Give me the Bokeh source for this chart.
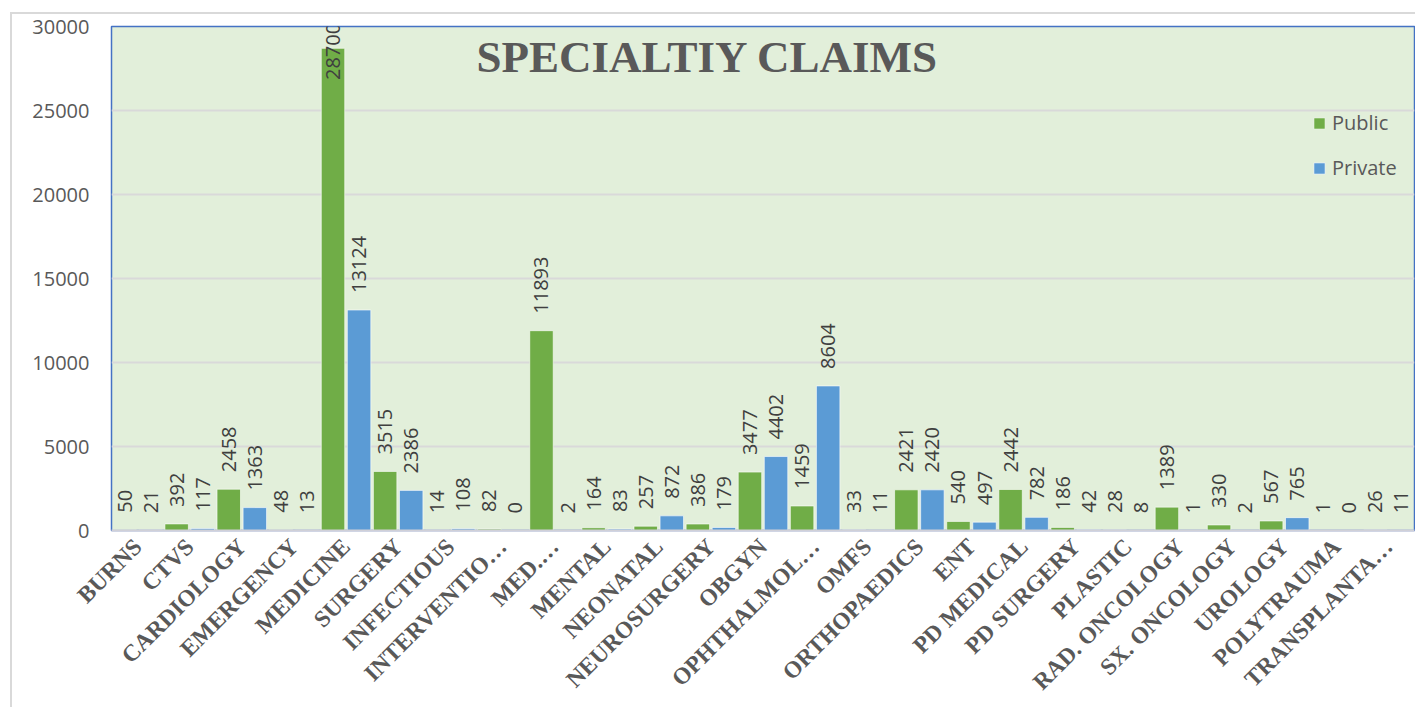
import math
from bokeh.plotting import figure
from bokeh.models import ColumnDataSource, FixedTicker, Range1d, Label
from bokeh.transform import dodge
from bokeh.core.properties import value
from bokeh.embed import file_html
from bokeh.resources import INLINE

categories = ["BURNS", "CTVS", "CARDIOLOGY", "EMERGENCY", "MEDICINE", "SURGERY",
              "INFECTIOUS", "INTERVENTIO…", "MED.…", "MENTAL", "NEONATAL",
              "NEUROSURGERY", "OBGYN", "OPHTHALMOL…", "OMFS", "ORTHOPAEDICS", "ENT",
              "PD MEDICAL", "PD SURGERY", "PLASTIC", "RAD. ONCOLOGY", "SX. ONCOLOGY",
              "UROLOGY", "POLYTRAUMA", "TRANSPLANTA…"]
public = [50, 392, 2458, 48, 28700, 3515, 14, 82, 11893, 164, 257, 386, 3477, 1459,
          33, 2421, 540, 2442, 186, 28, 1389, 330, 567, 1, 26]
private = [21, 117, 1363, 13, 13124, 2386, 108, 0, 2, 83, 872, 179, 4402, 8604,
           11, 2420, 497, 782, 42, 8, 1, 2, 765, 0, 11]
y_ticks = [0, 5000, 10000, 15000, 20000, 25000, 30000]
title_text = "SPECIALTIY CLAIMS"

GREEN = "#70AD47"
BLUE = "#5B9BD5"
TXT = "#595959"

y_max = y_ticks[-1]
label_cap = 25800  # keep labels of very tall bars inside the plot area

src = ColumnDataSource(dict(
    cat=categories,
    pub=public,
    pri=private,
    pub_s=[str(v) for v in public],
    pri_s=[str(v) for v in private],
    pub_ly=[min(v, label_cap) for v in public],
    pri_ly=[min(v, label_cap) for v in private],
))

p = figure(x_range=categories, y_range=Range1d(0, y_max),
           width=1415, height=707, output_backend="svg", toolbar_location=None,
           min_border_left=111, min_border_right=1, min_border_top=26,
           min_border_bottom=177)

p.background_fill_color = "#E2EFDA"
p.border_fill_color = "white"
p.border_fill_alpha = 0
p.styles = {
    "background": "linear-gradient(#D9D9D9, #D9D9D9) 10px 12px / 2px 100% no-repeat, "
                  "linear-gradient(#D9D9D9, #D9D9D9) 10px 12px / 100% 2px no-repeat, "
                  "white",
}
p.outline_line_color = "#4472C4"
p.outline_line_width = 1.5

p.vbar(x=dodge("cat", -0.25, range=p.x_range), top="pub", width=0.45, source=src,
       fill_color=GREEN, line_color="white", line_alpha=0.6, line_width=1,
       legend_label="Public")
p.vbar(x=dodge("cat", 0.25, range=p.x_range), top="pri", width=0.45, source=src,
       fill_color=BLUE, line_color="white", line_alpha=0.6, line_width=1,
       legend_label="Private")

for xo, col, ly in ((-0.25, "pub_s", "pub_ly"), (0.25, "pri_s", "pri_ly")):
    p.text(x=dodge("cat", xo, range=p.x_range), y=ly, text=col, source=src,
           angle=math.pi / 2, text_align="left", text_baseline="middle",
           y_offset=-17, text_font=value("Open Sans"), text_font_size="20px",
           text_color="#3F3F3F")

p.xgrid.visible = False
p.ygrid.grid_line_color = "#D9D9D9"
p.ygrid.grid_line_width = 2

p.yaxis.ticker = FixedTicker(ticks=y_ticks)
p.yaxis.axis_line_color = None
p.yaxis.major_tick_line_color = None
p.yaxis.major_tick_out = 0
p.yaxis.minor_tick_line_color = None
p.yaxis.major_label_standoff = 22
p.yaxis.major_label_text_font = "Open Sans"
p.yaxis.major_label_text_font_size = "20px"
p.yaxis.major_label_text_color = TXT

p.xaxis.axis_line_color = "#D0D0D8"
p.xaxis.axis_line_width = 2
p.xaxis.major_tick_line_color = None
p.xaxis.major_tick_out = 0
p.xaxis.minor_tick_line_color = None
p.xaxis.major_label_orientation = math.pi / 4
p.xaxis.major_label_standoff = 12
p.xaxis.major_label_text_font = "Liberation Serif"
p.xaxis.major_label_text_font_style = "bold"
p.xaxis.major_label_text_font_size = "23.5px"
p.xaxis.major_label_text_color = TXT

p.add_layout(Label(x=365, y=474, x_units="screen", y_units="screen",
                   text=title_text, text_font="Liberation Serif",
                   text_font_style="bold", text_font_size="45px",
                   text_color=TXT, text_baseline="alphabetic"))

lg = p.legend[0]
lg.location = (1201, 349)
lg.background_fill_alpha = 0
lg.border_line_color = None
lg.padding = 0
lg.margin = 0
lg.glyph_width = 14
lg.glyph_height = 14
lg.label_height = 20
lg.spacing = 18
lg.label_standoff = 6
lg.label_text_font = "Open Sans"
lg.label_text_font_size = "20px"
lg.label_text_color = TXT

open("out.html", "w").write(file_html(p, INLINE))
